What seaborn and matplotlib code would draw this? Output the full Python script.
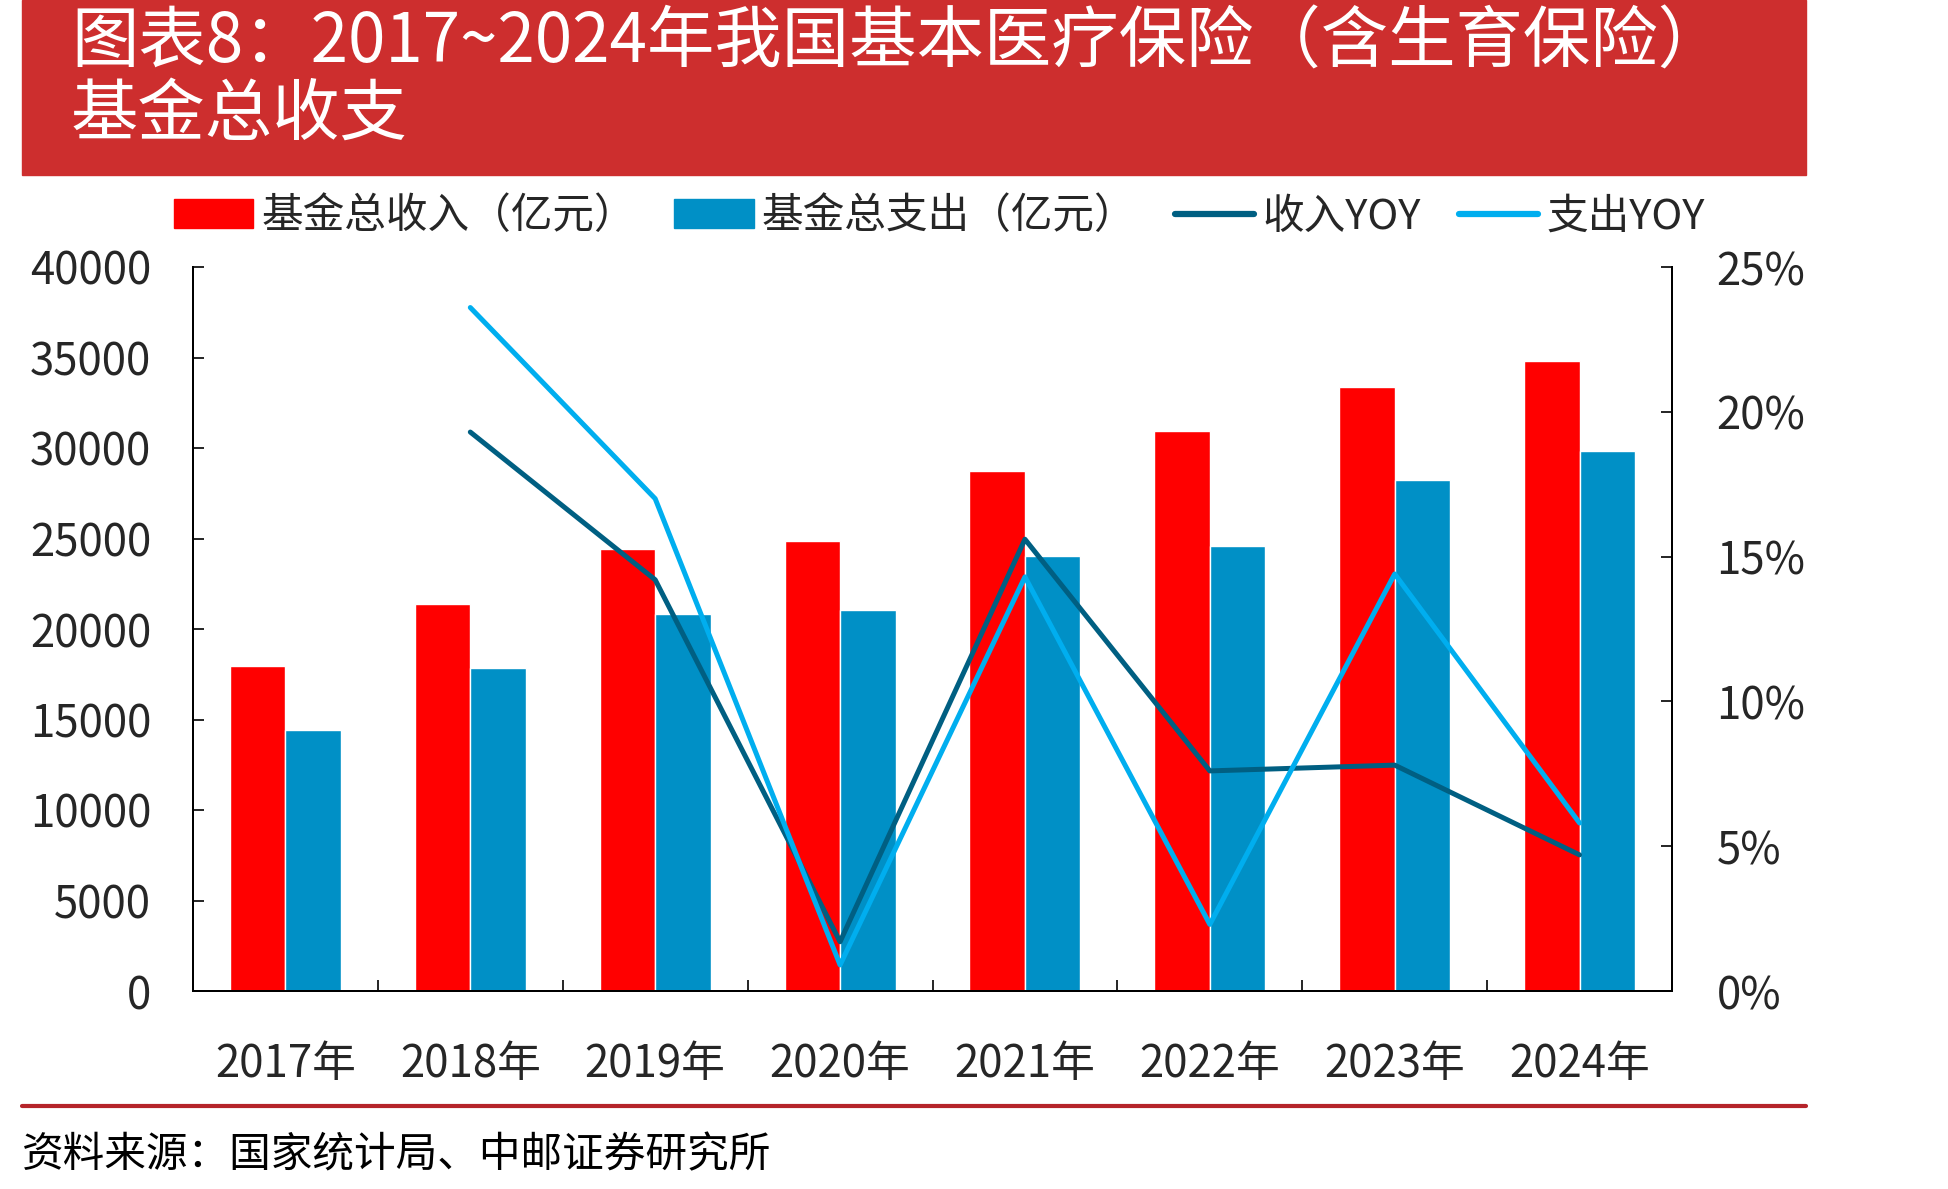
import numpy as np
import pandas as pd
import matplotlib.pyplot as plt
import seaborn as sns
from matplotlib.patches import Rectangle
from matplotlib.lines import Line2D
from matplotlib.ticker import MultipleLocator, FixedLocator, PercentFormatter

# 数据
years = ['2017年', '2018年', '2019年', '2020年', '2021年', '2022年', '2023年', '2024年']
income = [17932, 21384, 24421, 24846, 28710, 30922, 33355, 34809]
expense = [14422, 17822, 20854, 21032, 24043, 24597, 28208, 29846]
income_yoy = [np.nan, 19.3, 14.2, 1.7, 15.6, 7.6, 7.8, 4.7]
expense_yoy = [np.nan, 23.6, 17.0, 0.9, 14.3, 2.3, 14.4, 5.8]

lbl_inc = '基金总收入（亿元）'
lbl_exp = '基金总支出（亿元）'
lbl_inc_yoy = '收入YOY'
lbl_exp_yoy = '支出YOY'

c_inc = '#FF0000'
c_exp = '#0090C6'
c_inc_yoy = '#005F82'
c_exp_yoy = '#00AEEF'

df_bar = pd.DataFrame({'年份': years, lbl_inc: income, lbl_exp: expense})
df_bar = df_bar.melt(id_vars='年份', var_name='项目', value_name='金额')
df_yoy = pd.DataFrame({'pos': np.arange(len(years)), lbl_inc_yoy: income_yoy, lbl_exp_yoy: expense_yoy})

sns.set_theme(style="white")
plt.rcParams['font.family'] = ['Noto Sans CJK SC', 'DejaVu Sans']

fig = plt.figure(figsize=(19.48, 11.89), dpi=100)
ax = fig.add_axes([193 / 1948, 1 - 991 / 1189, (1672 - 193) / 1948, (991 - 267) / 1189])

sns.barplot(data=df_bar, x='年份', y='金额', hue='项目', ax=ax,
            palette=[c_inc, c_exp], width=0.6, saturation=1, legend=False)
ax.set_xlim(-0.5, len(years) - 0.5)
ax.set_ylim(0, 40000)
ax.yaxis.set_major_locator(MultipleLocator(5000))
ax.set_xlabel('')
ax.set_ylabel('')

ax2 = ax.twinx()
sns.lineplot(data=df_yoy, x='pos', y=lbl_inc_yoy, ax=ax2, color=c_inc_yoy, linewidth=3.6)
sns.lineplot(data=df_yoy, x='pos', y=lbl_exp_yoy, ax=ax2, color=c_exp_yoy, linewidth=3.6)
ax2.set_ylim(0, 25)
ax2.yaxis.set_major_locator(MultipleLocator(5))
ax2.yaxis.set_major_formatter(PercentFormatter(decimals=0))
ax2.set_ylabel('')
ax2.set_xlabel('')
ax2.set_xlim(-0.5, len(years) - 0.5)

for a in (ax, ax2):
    a.spines['top'].set_visible(False)
    for s in ('left', 'right', 'bottom'):
        a.spines[s].set_color('black')
        a.spines[s].set_linewidth(1.4)
    a.grid(False)

ax.tick_params(axis='y', direction='in', length=8, width=1.2, color='black',
               labelsize=31.5, pad=30)
ax2.tick_params(axis='y', direction='in', length=8, width=1.2, color='black',
                labelsize=31.5, pad=32)
ax.set_xticks(np.arange(len(years)))
ax.set_xticklabels(years)
ax.tick_params(axis='x', which='major', length=0, labelsize=31.5, pad=36)
ax.xaxis.set_minor_locator(FixedLocator(np.arange(0.5, len(years) - 0.5, 1)))
ax.tick_params(axis='x', which='minor', direction='in', length=8, width=1.2,
               color='black', bottom=True)

# 图例
handles = [Rectangle((0, 0), 1, 1, color=c_inc), Rectangle((0, 0), 1, 1, color=c_exp),
           Line2D([], [], color=c_inc_yoy, linewidth=4.5),
           Line2D([], [], color=c_exp_yoy, linewidth=4.5)]
fig.legend(handles, [lbl_inc, lbl_exp, lbl_inc_yoy, lbl_exp_yoy], ncol=4,
           loc='center left', bbox_to_anchor=(174 / 1948, 1 - 217 / 1189),
           frameon=False, fontsize=30, handlelength=1.9, handleheight=0.7,
           handletextpad=0.2, columnspacing=0.92, borderpad=0, borderaxespad=0)

# 标题栏
fig.patches.append(Rectangle((22 / 1948, 1 - 175 / 1189), (1806 - 22) / 1948, 175 / 1189,
                             transform=fig.transFigure, color='#CD2E2E', zorder=0))
fig.text(71 / 1948, 1 - 44 / 1189, '图表8：2017~2024年我国基本医疗保险（含生育保险）',
         color='white', fontsize=48.5, va='center', ha='left')
fig.text(71 / 1948, 1 - 116 / 1189, '基金总收支',
         color='white', fontsize=48.5, va='center', ha='left')

# 底部分隔线与来源
fig.add_artist(Line2D([22 / 1948, 1806 / 1948], [1 - 1106 / 1189, 1 - 1106 / 1189],
                      transform=fig.transFigure, color='#B5242A', linewidth=3))
fig.text(22 / 1948, 1 - 1156 / 1189, '资料来源：国家统计局、中邮证券研究所',
         fontsize=30, va='center', ha='left', color='black')

fig.savefig('out.png', dpi=100)
